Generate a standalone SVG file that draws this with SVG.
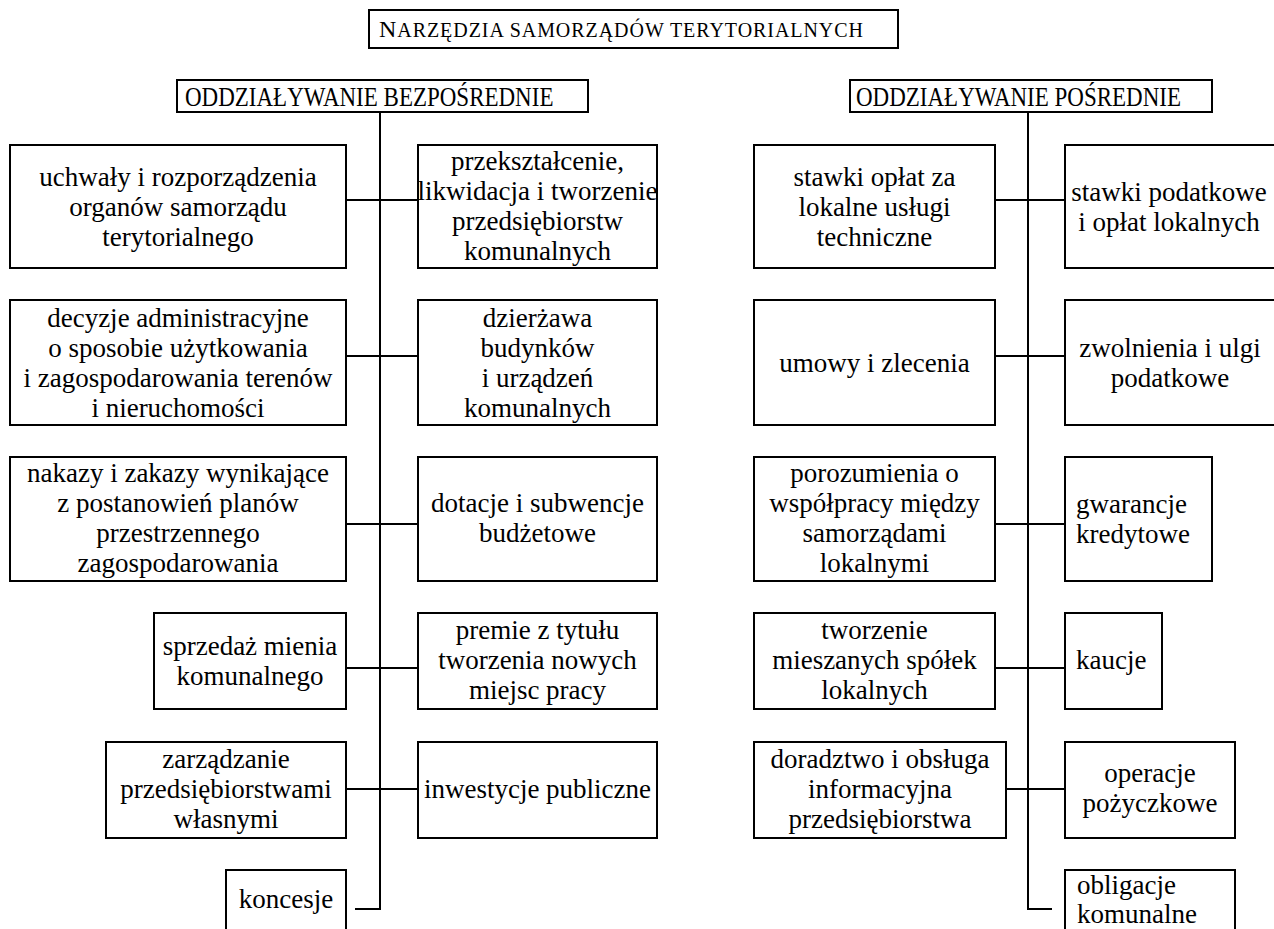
<svg xmlns="http://www.w3.org/2000/svg" width="1274" height="929" viewBox="0 0 1274 929">
<style>
.box{fill:#fff;stroke:#000;stroke-width:2}
.conn{stroke:#000;stroke-width:2;fill:none}
.t{font-family:"Liberation Serif","Times New Roman",serif;font-size:27px;fill:#000}
.c{text-anchor:middle}
.h{font-family:"Liberation Serif","Times New Roman",serif;font-size:26.4px;fill:#000}
</style>
<rect width="1274" height="929" fill="#fff"/>
<g id="connectors">
<line class="conn" x1="380" y1="112" x2="380" y2="910"/>
<line class="conn" x1="355" y1="909" x2="381" y2="909"/>
<line class="conn" x1="346" y1="200" x2="418" y2="200"/>
<line class="conn" x1="346" y1="356" x2="418" y2="356"/>
<line class="conn" x1="346" y1="524" x2="418" y2="524"/>
<line class="conn" x1="346" y1="668" x2="418" y2="668"/>
<line class="conn" x1="346" y1="789" x2="418" y2="789"/>
<line class="conn" x1="1028" y1="112" x2="1028" y2="910"/>
<line class="conn" x1="1027" y1="909" x2="1052" y2="909"/>
<line class="conn" x1="995" y1="200" x2="1065" y2="200"/>
<line class="conn" x1="995" y1="356" x2="1065" y2="356"/>
<line class="conn" x1="995" y1="524" x2="1065" y2="524"/>
<line class="conn" x1="995" y1="668" x2="1065" y2="668"/>
<line class="conn" x1="1006" y1="789" x2="1065" y2="789"/>
</g>
<g id="title">
<rect class="box" x="369" y="10" width="529" height="38"/>
<text x="379" y="37" font-family="Liberation Serif, Times New Roman, serif" fill="#000" textLength="484" lengthAdjust="spacing"><tspan font-size="24">N</tspan><tspan font-size="20">ARZĘDZIA SAMORZĄDÓW TERYTORIALNYCH</tspan></text>
</g>
<g id="header-direct">
<rect class="box" x="177" y="80" width="411" height="32"/>
<text class="h" transform="scale(0.871,1)" x="212.4" y="106">ODDZIAŁYWANIE BEZPOŚREDNIE</text>
</g>
<g id="header-indirect">
<rect class="box" x="850" y="80" width="362" height="32"/>
<text class="h" transform="scale(0.871,1)" x="982.8" y="106">ODDZIAŁYWANIE POŚREDNIE</text>
</g>
<g id="n-uchwaly">
<rect class="box" x="10" y="145" width="336" height="123"/>
<text class="t c"><tspan x="178" y="185.5">uchwały i rozporządzenia</tspan><tspan x="178" y="215.5">organów samorządu</tspan><tspan x="178" y="245.5">terytorialnego</tspan></text>
</g>
<g id="n-przeksztalcenie">
<rect class="box" x="418" y="145" width="239" height="123"/>
<text class="t c"><tspan x="537.5" y="170">przekształcenie,</tspan><tspan x="537.5" y="200">likwidacja i tworzenie</tspan><tspan x="537.5" y="230">przedsiębiorstw</tspan><tspan x="537.5" y="260">komunalnych</tspan></text>
</g>
<g id="n-decyzje">
<rect class="box" x="10" y="300" width="336" height="125"/>
<text class="t c"><tspan x="178" y="326.5">decyzje administracyjne</tspan><tspan x="178" y="356.5">o sposobie użytkowania</tspan><tspan x="178" y="386.5">i zagospodarowania terenów</tspan><tspan x="178" y="416.5">i nieruchomości</tspan></text>
</g>
<g id="n-dzierzawa">
<rect class="box" x="418" y="300" width="239" height="125"/>
<text class="t c"><tspan x="537.5" y="326.5">dzierżawa</tspan><tspan x="537.5" y="356.5">budynków</tspan><tspan x="537.5" y="386.5">i urządzeń</tspan><tspan x="537.5" y="416.5">komunalnych</tspan></text>
</g>
<g id="n-nakazy">
<rect class="box" x="10" y="457" width="336" height="124"/>
<text class="t c"><tspan x="178" y="482">nakazy i zakazy wynikające</tspan><tspan x="178" y="512">z postanowień planów</tspan><tspan x="178" y="542">przestrzennego</tspan><tspan x="178" y="572">zagospodarowania</tspan></text>
</g>
<g id="n-dotacje">
<rect class="box" x="418" y="457" width="239" height="124"/>
<text class="t c"><tspan x="537.5" y="512">dotacje i subwencje</tspan><tspan x="537.5" y="542">budżetowe</tspan></text>
</g>
<g id="n-sprzedaz">
<rect class="box" x="154" y="613" width="192" height="96"/>
<text class="t c"><tspan x="250" y="655">sprzedaż mienia</tspan><tspan x="250" y="685">komunalnego</tspan></text>
</g>
<g id="n-premie">
<rect class="box" x="418" y="613" width="239" height="96"/>
<text class="t c"><tspan x="537.5" y="639">premie z tytułu</tspan><tspan x="537.5" y="669">tworzenia nowych</tspan><tspan x="537.5" y="699">miejsc pracy</tspan></text>
</g>
<g id="n-zarzadzanie">
<rect class="box" x="106" y="742" width="240" height="96"/>
<text class="t c"><tspan x="226" y="768">zarządzanie</tspan><tspan x="226" y="798">przedsiębiorstwami</tspan><tspan x="226" y="828">własnymi</tspan></text>
</g>
<g id="n-inwestycje">
<rect class="box" x="418" y="742" width="239" height="96"/>
<text class="t c"><tspan x="537.5" y="798">inwestycje publiczne</tspan></text>
</g>
<g id="n-koncesje">
<rect class="box" x="226" y="870" width="120" height="70"/>
<text class="t c"><tspan x="286" y="908">koncesje</tspan></text>
</g>
<g id="n-stawki-oplat">
<rect class="box" x="754" y="145" width="241" height="123"/>
<text class="t c"><tspan x="874.5" y="185.5">stawki opłat za</tspan><tspan x="874.5" y="215.5">lokalne usługi</tspan><tspan x="874.5" y="245.5">techniczne</tspan></text>
</g>
<g id="n-stawki-podatkowe">
<rect class="box" x="1065" y="145" width="220" height="123"/>
<text class="t c"><tspan x="1169" y="200.5">stawki podatkowe</tspan><tspan x="1169" y="230.5">i opłat lokalnych</tspan></text>
</g>
<g id="n-umowy">
<rect class="box" x="754" y="300" width="241" height="125"/>
<text class="t c"><tspan x="874.5" y="371.5">umowy i zlecenia</tspan></text>
</g>
<g id="n-zwolnienia">
<rect class="box" x="1065" y="300" width="220" height="125"/>
<text class="t c"><tspan x="1170" y="356.5">zwolnienia i ulgi</tspan><tspan x="1170" y="386.5">podatkowe</tspan></text>
</g>
<g id="n-porozumienia">
<rect class="box" x="754" y="457" width="241" height="124"/>
<text class="t c"><tspan x="874.5" y="482">porozumienia o</tspan><tspan x="874.5" y="512">współpracy między</tspan><tspan x="874.5" y="542">samorządami</tspan><tspan x="874.5" y="572">lokalnymi</tspan></text>
</g>
<g id="n-gwarancje">
<rect class="box" x="1065" y="457" width="147" height="124"/>
<text class="t"><tspan x="1076" y="513">gwarancje</tspan><tspan x="1076" y="543">kredytowe</tspan></text>
</g>
<g id="n-tworzenie">
<rect class="box" x="754" y="613" width="241" height="96"/>
<text class="t c"><tspan x="874.5" y="639">tworzenie</tspan><tspan x="874.5" y="669">mieszanych spółek</tspan><tspan x="874.5" y="699">lokalnych</tspan></text>
</g>
<g id="n-kaucje">
<rect class="box" x="1065" y="613" width="97" height="96"/>
<text class="t"><tspan x="1076" y="669">kaucje</tspan></text>
</g>
<g id="n-doradztwo">
<rect class="box" x="754" y="742" width="252" height="96"/>
<text class="t c"><tspan x="880" y="768">doradztwo i obsługa</tspan><tspan x="880" y="798">informacyjna</tspan><tspan x="880" y="828">przedsiębiorstwa</tspan></text>
</g>
<g id="n-operacje">
<rect class="box" x="1065" y="742" width="170" height="96"/>
<text class="t c"><tspan x="1150" y="782">operacje</tspan><tspan x="1150" y="812">pożyczkowe</tspan></text>
</g>
<g id="n-obligacje">
<rect class="box" x="1065" y="870" width="170" height="70"/>
<text class="t"><tspan x="1077" y="894">obligacje</tspan><tspan x="1077" y="923">komunalne</tspan></text>
</g>
</svg>
